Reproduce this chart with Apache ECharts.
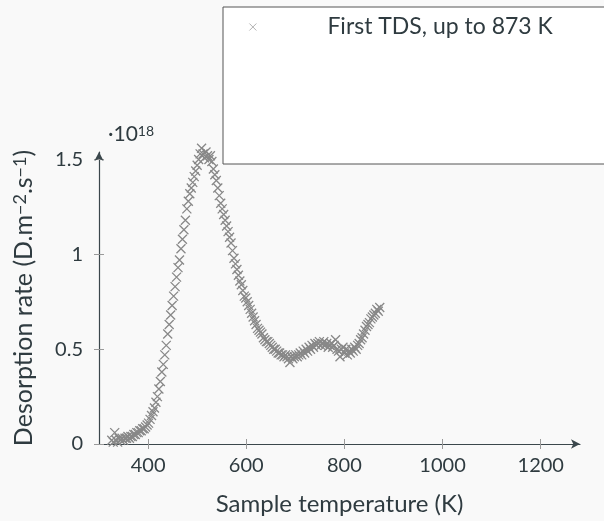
<!DOCTYPE html>
<html>
<head>
<meta charset="utf-8">
<script src="https://cdn.jsdelivr.net/npm/echarts@6/dist/echarts.min.js"></script>
<style>
  html, body { margin: 0; padding: 0; background: #f9f9f9; }
  #tds { width: 604px; height: 521px; }
</style>
</head>
<body>
<div id="tds"></div>
<script>
// sample temperature (K)
var temps = [
	326, 329, 332, 335, 338, 341, 344, 347, 350, 353, 356, 359, 362, 365, 368, 371, 374, 377, 380, 383,
	386, 389, 392, 395, 398, 401, 404, 407, 410, 413, 416, 419, 422, 425, 428, 431, 434, 437, 440, 443,
	446, 449, 452, 455, 458, 461, 464, 467, 470, 473, 476, 479, 482, 485, 488, 491, 494, 497, 500, 503,
	506, 509, 512, 515, 518, 521, 524, 527, 530, 533, 536, 539, 542, 545, 548, 551, 554, 557, 560, 563,
	566, 569, 572, 575, 578, 581, 584, 587, 590, 593, 596, 599, 602, 605, 608, 611, 614, 617, 620, 623,
	626, 629, 632, 635, 638, 641, 644, 647, 650, 653, 656, 659, 662, 665, 668, 671, 674, 677, 680, 683,
	686, 689, 692, 695, 698, 701, 704, 707, 710, 713, 716, 719, 722, 725, 728, 731, 734, 737, 740, 743,
	746, 749, 752, 755, 758, 761, 764, 767, 770, 773, 776, 779, 782, 785, 788, 791, 794, 797, 800, 803,
	806, 809, 812, 815, 818, 821, 824, 827, 830, 833, 836, 839, 842, 845, 848, 851, 854, 857, 860, 863,
	866, 869, 872
];
// desorption rate, in units of 1e18 D.m-2.s-1
var rates = [
	0.02, 0.01, 0.06, 0.02, 0.01, 0.03, 0.02, 0.03, 0.02, 0.03, 0.03, 0.04, 0.03, 0.04, 0.04, 0.05, 0.05, 0.06, 0.06, 0.07,
	0.07, 0.08, 0.08, 0.09, 0.10, 0.11, 0.13, 0.15, 0.17, 0.19, 0.22, 0.25, 0.29, 0.33, 0.38, 0.42, 0.47, 0.52, 0.58, 0.63,
	0.68, 0.73, 0.78, 0.83, 0.88, 0.93, 0.97, 1.03, 1.08, 1.13, 1.18, 1.24, 1.28, 1.32, 1.35, 1.38, 1.41, 1.44, 1.47, 1.50,
	1.53, 1.56, 1.53, 1.51, 1.54, 1.52, 1.50, 1.52, 1.49, 1.45, 1.42, 1.39, 1.35, 1.31, 1.27, 1.24, 1.21, 1.18, 1.15, 1.12,
	1.09, 1.06, 1.02, 0.98, 0.95, 0.92, 0.89, 0.86, 0.84, 0.81, 0.78, 0.77, 0.75, 0.73, 0.71, 0.69, 0.67, 0.65, 0.63, 0.61,
	0.60, 0.59, 0.58, 0.56, 0.55, 0.54, 0.54, 0.53, 0.52, 0.51, 0.50, 0.50, 0.49, 0.48, 0.48, 0.47, 0.47, 0.46, 0.47, 0.46,
	0.45, 0.43, 0.46, 0.45, 0.46, 0.47, 0.46, 0.47, 0.48, 0.47, 0.49, 0.48, 0.50, 0.49, 0.51, 0.50, 0.52, 0.51, 0.53, 0.52,
	0.53, 0.54, 0.52, 0.53, 0.54, 0.52, 0.53, 0.51, 0.52, 0.53, 0.51, 0.52, 0.55, 0.50, 0.49, 0.46, 0.50, 0.51, 0.48, 0.50,
	0.47, 0.49, 0.48, 0.50, 0.49, 0.51, 0.50, 0.52, 0.53, 0.55, 0.56, 0.58, 0.60, 0.62, 0.63, 0.64, 0.66, 0.67, 0.68, 0.69,
	0.71, 0.70, 0.72
];
var xTicks = [400, 600, 800, 1000, 1200];
var yTicks = [0, 0.5, 1, 1.5];
var seriesName = 'First TDS, up to 873 K';

var crossPath = 'path://M0,0L10,10M10,0L0,10';
var textColor = '#2f3b40';
var lineColor = '#3b474c';
var tickColor = '#9a9a9a';
var fontName = 'Lato';

function makePoints(xs, ys) {
	var arr = [];
	for (var i = 0; i < xs.length; i++) {
		arr.push([xs[i], ys[i]]);
	}
	return arr;
}

var chart = echarts.init(document.getElementById('tds'), null, {renderer: 'canvas'});

chart.setOption({
	backgroundColor: '#f9f9f9',
	animation: false,
	textStyle: { fontFamily: fontName, color: textColor },
	grid: { left: 99, right: 24, top: 152, bottom: 76, containLabel: false },
	title: {
		text: '{a|·10}{s|18}',
		left: 103,
		top: 119,
		textStyle: {
			rich: {
				a: { fontSize: 21, fontWeight: 'normal', fontFamily: fontName, color: textColor, verticalAlign: 'bottom' },
				s: { fontSize: 14, fontWeight: 'normal', fontFamily: fontName, color: textColor, verticalAlign: 'top' }
			}
		}
	},
	legend: {
		data: [seriesName],
		left: 223,
		top: 7,
		orient: 'vertical',
		padding: [7, 90, 124, 26],
		backgroundColor: '#ffffff',
		borderColor: '#555555',
		borderWidth: 1,
		borderRadius: 0,
		itemWidth: 7,
		itemHeight: 7,
		icon: crossPath,
		itemStyle: { color: 'transparent', borderColor: '#a0a0a0', borderWidth: 0.8 },
		textStyle: { fontSize: 23, color: textColor, fontFamily: fontName, padding: [0, 0, 0, 66], lineHeight: 26 }
	},
	xAxis: [{
		type: 'value',
		min: 300,
		max: 1280,
		position: 'bottom',
		name: 'Sample temperature (K)',
		nameLocation: 'middle',
		nameGap: 48,
		nameTextStyle: { fontSize: 24, color: textColor },
		axisLine: { show: true, symbol: ['none', 'arrow'], symbolSize: [7, 9], lineStyle: { color: lineColor, width: 1.2 } },
		axisTick: { show: true, length: 5, customValues: xTicks, lineStyle: { color: tickColor } },
		axisLabel: { customValues: xTicks, margin: 12, fontSize: 20, color: textColor, formatter: function(v) { return String(v); } },
		splitLine: { show: false }
	}, {
		type: 'value',
		min: 300,
		max: 1280,
		position: 'bottom',
		axisLine: { show: false },
		axisTick: { show: true, inside: true, length: 5, customValues: xTicks, lineStyle: { color: tickColor } },
		axisLabel: { show: false },
		splitLine: { show: false }
	}],
	yAxis: [{
		type: 'value',
		min: 0,
		max: 1.54,
		position: 'left',
		name: '{n|Desorption rate (D.m}{s|−2}{n|.s}{s|−1}{n|)}',
		nameLocation: 'middle',
		nameGap: 63,
		nameTextStyle: {
			rich: {
				n: { fontSize: 25, color: textColor, fontFamily: fontName, verticalAlign: 'bottom' },
				s: { fontSize: 18, color: textColor, fontFamily: fontName, verticalAlign: 'top' }
			}
		},
		axisLine: { show: true, symbol: ['none', 'arrow'], symbolSize: [7, 9], lineStyle: { color: lineColor, width: 1.2 } },
		axisTick: { show: true, length: 5, customValues: yTicks, lineStyle: { color: tickColor } },
		axisLabel: { customValues: yTicks, margin: 16, fontSize: 20, color: textColor },
		splitLine: { show: false }
	}, {
		type: 'value',
		min: 0,
		max: 1.54,
		position: 'left',
		axisLine: { show: false },
		axisTick: { show: true, inside: true, length: 5, customValues: yTicks, lineStyle: { color: tickColor } },
		axisLabel: { show: false },
		splitLine: { show: false }
	}],
	series: [{
		name: seriesName,
		type: 'scatter',
		xAxisIndex: 0,
		yAxisIndex: 0,
		clip: false,
		symbol: crossPath,
		symbolSize: 9,
		itemStyle: { color: 'transparent', borderColor: '#888888', borderWidth: 1.3, opacity: 1 },
		data: makePoints(temps, rates)
	}]
});
</script>
</body>
</html>
